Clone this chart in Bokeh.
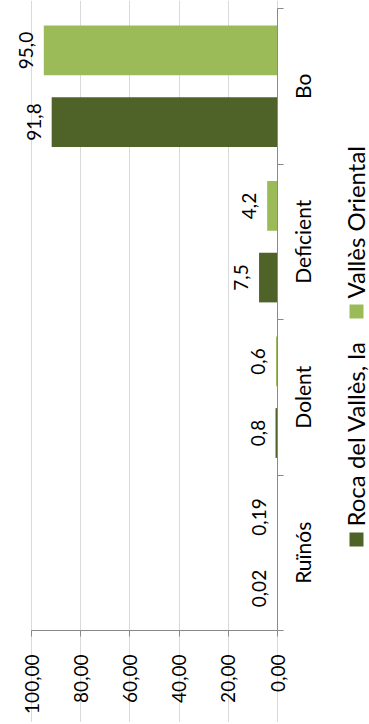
import numpy as np
from math import pi
from bokeh.plotting import figure
from bokeh.models import (Range1d, FixedTicker, ColumnDataSource, Label, LabelSet,
                          BoxAnnotation, LinearAxis)
from bokeh.core.properties import value
from bokeh.embed import file_html
from bokeh.resources import INLINE

# ---- data ----
categories = ["Ruïnós", "Dolent", "Deficient", "Bo"]          # bottom -> top
roca = [0.02, 0.8, 7.5, 91.8]
valles = [0.19, 0.6, 4.2, 95.0]
roca_labels = ["0,02", "0,8", "7,5", "91,8"]
valles_labels = ["0,19", "0,6", "4,2", "95,0"]
value_ticks = [0, 20, 40, 60, 80, 100]
value_tick_labels = ["0,00", "20,00", "40,00", "60,00", "80,00", "100,00"]
series_names = ["Roca del Vallès, la", "Vallès Oriental"]

# ---- style / layout ----
DARK = "#4F6228"
LIGHT = "#9BBB59"
GRID = "#D9D9D9"
AXIS = "#898989"
FONT = "Lato"

W, H = 369, 722
# plot-area edges (pixels from the canvas' top-left)
PL, PR, PT, PB = 31, 277, 8, 630
ncat = len(categories)
vmin, vmax = value_ticks[0], value_ticks[-1]
xpx = (PR - PL) / (vmax - vmin)     # px per value unit
ypx = (PB - PT) / ncat              # px per category

def fx(px):   # canvas px -> data x  (value axis runs right-to-left)
    return vmin + (PR - px) / xpx

def fy(py):   # canvas px -> data y
    return (PB - py) / ypx

p = figure(width=W, height=H, output_backend="svg", toolbar_location=None,
           x_range=Range1d(fx(0), fx(W)), y_range=Range1d(fy(H), fy(0)),
           x_axis_location=None, y_axis_location=None,
           min_border=0, min_border_left=0, min_border_right=0,
           min_border_top=0, min_border_bottom=0,
           outline_line_color=None, background_fill_color="white",
           border_fill_color="white")

centers = np.arange(ncat) + 0.5
off, bh = 0.23, 0.32
src = ColumnDataSource(dict(
    roca=roca, valles=valles,
    roca_y=centers - off, valles_y=centers + off,
    roca_lab=roca_labels, valles_lab=valles_labels))
cat_src = ColumnDataSource(dict(cat=categories, y=centers, x=[vmin] * ncat))

# grid
vt = FixedTicker(ticks=value_ticks, minor_ticks=[])
p.xgrid.ticker = vt
p.xgrid.grid_line_color = GRID
p.xgrid.bounds = (0, ncat)
p.ygrid.grid_line_color = None

p.hbar(y="roca_y", left=0, right="roca", height=bh, source=src,
       fill_color=DARK, line_color=None)
p.hbar(y="valles_y", left=0, right="valles", height=bh, source=src,
       fill_color=LIGHT, line_color=None)

for xcol, ycol, tcol in [("roca", "roca_y", "roca_lab"), ("valles", "valles_y", "valles_lab")]:
    p.add_layout(LabelSet(x=xcol, y=ycol, text=tcol, source=src, angle=pi / 2,
                          text_align="center", text_baseline="bottom", x_offset=-11,
                          text_font=value(FONT), text_font_size="19px",
                          text_color="black"))

# value axis
xa = LinearAxis(ticker=vt, fixed_location=0, bounds=(vmin, vmax))
xa.major_label_overrides = {t: l for t, l in zip(value_ticks, value_tick_labels)}
xa.major_label_orientation = pi / 2
xa.major_tick_out = 6
xa.major_tick_in = 0
xa.minor_tick_line_color = None
xa.axis_line_color = AXIS
xa.major_tick_line_color = AXIS
xa.major_label_standoff = 18
xa.major_label_text_font = FONT
xa.major_label_text_font_size = "19px"
xa.major_label_text_color = "black"
p.add_layout(xa, "below")

# category axis: line + boundary ticks; names centred on each band
ct = FixedTicker(ticks=[], minor_ticks=list(range(ncat + 1)))
ya = LinearAxis(ticker=ct, fixed_location=0, bounds=(0, ncat))
ya.major_tick_line_color = None
ya.minor_tick_out = 6
ya.minor_tick_in = 0
ya.minor_tick_line_color = AXIS
ya.axis_line_color = AXIS
p.add_layout(ya, "right")

p.add_layout(LabelSet(x="x", y="y", text="cat", source=cat_src, angle=pi / 2,
                      text_align="center", text_baseline="top", x_offset=12,
                      text_font=value(FONT), text_font_size="21px", text_color="black"))

# ---- legend (rotated, drawn by hand) ----
legend_items = [(series_names[0], DARK, 532), (series_names[1], LIGHT, 304)]
for name, col, sq_top in legend_items:
    p.add_layout(BoxAnnotation(left=fx(349), right=fx(363), top=fy(sq_top), bottom=fy(sq_top + 14),
                               fill_color=col, fill_alpha=1, line_color=None))
    p.add_layout(Label(x=fx(355), y=fy(sq_top - 6), text=name, angle=pi / 2,
                       text_align="left", text_baseline="middle",
                       text_font=FONT, text_font_size="24px", text_color="black"))

open("out.html", "w").write(file_html(p, INLINE))
